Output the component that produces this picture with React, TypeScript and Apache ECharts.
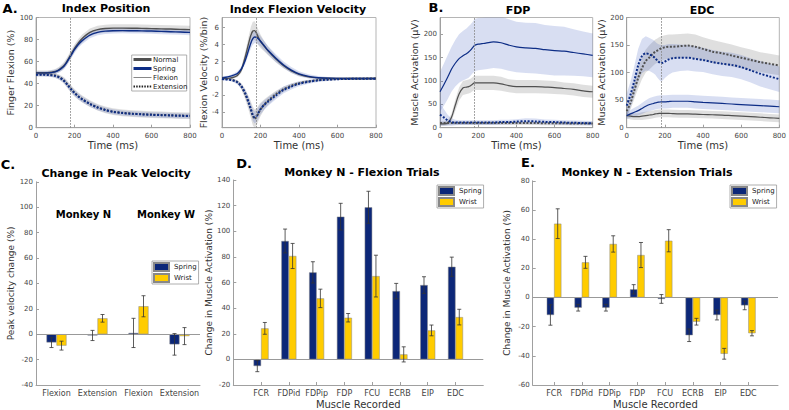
import React, { useEffect, useRef } from "react";
import * as echarts from "echarts";

const FONT = "DejaVu Sans";

// ---------- time-series data (ms) ----------
const timeMs = [0, 20, 40, 60, 80, 100, 120, 140, 150, 160, 170, 180, 190, 200, 220, 240, 280, 320, 360, 400, 450, 500, 550, 600, 650, 700, 750, 800];
const moveOnset = 180;

// Index position (%)
const posFlexNormal = [50, 50, 50, 50, 50.3, 51, 52.8, 55.5, 57.5, 60, 63, 66, 69, 72, 77, 81, 86.5, 89, 90, 90.4, 90.4, 90.3, 90.1, 89.9, 89.7, 89.5, 89.2, 89];
const posFlexSpring = [49.5, 49.5, 49.5, 49.6, 50, 50.7, 52.2, 54.8, 56.8, 59.3, 62.2, 65, 68, 70.8, 75.5, 79, 84, 86.5, 87.6, 88, 88.1, 88, 87.9, 87.7, 87.4, 87.1, 86.8, 86.5];
const posExtNormal = [48.5, 48.5, 48.5, 48.3, 48, 47.4, 46, 43.8, 42, 40, 37.8, 35.6, 33.6, 31.8, 28.6, 26, 21.8, 18.6, 16.2, 14.6, 13.5, 12.8, 12.3, 11.9, 11.6, 11.3, 11, 10.8];
const posExtSpring = [48, 48, 48, 47.8, 47.5, 47, 45.6, 43.4, 41.6, 39.6, 37.4, 35.3, 33.3, 31.5, 28.3, 25.7, 21.5, 18.3, 16, 14.4, 13.3, 12.6, 12.1, 11.7, 11.4, 11.1, 10.8, 10.6];
const posSdFlexNormal = [2, 2, 2, 2, 2, 2.2, 2.5, 3, 3.2, 3.4, 3.5, 3.6, 3.6, 3.6, 3.6, 3.6, 3.5, 3.5, 3.5, 3.5, 3.5, 3.5, 3.5, 3.5, 3.5, 3.5, 3.5, 3.5];
const posSdFlexSpring = [1.8, 1.8, 1.8, 1.8, 1.8, 2, 2.2, 2.5, 2.6, 2.8, 2.9, 3, 3, 3, 3, 3, 2.8, 2.6, 2.5, 2.5, 2.5, 2.5, 2.5, 2.5, 2.5, 2.5, 2.5, 2.5];
const posSdExtNormal = [1.8, 1.8, 1.8, 1.8, 1.8, 2, 2.3, 2.7, 3, 3.2, 3.3, 3.4, 3.4, 3.4, 3.3, 3.2, 3, 3, 3, 3, 3, 3, 3, 3, 3, 3, 3, 3];
const posSdExtSpring = [1.6, 1.6, 1.6, 1.6, 1.6, 1.8, 2, 2.3, 2.5, 2.6, 2.7, 2.8, 2.8, 2.8, 2.7, 2.6, 2.5, 2.4, 2.3, 2.3, 2.3, 2.3, 2.3, 2.3, 2.3, 2.3, 2.3, 2.3];

// Index flexion velocity (%/bin)
const velFlexNormal = [0, 0, 0.05, 0.15, 0.35, 1.0, 2.5, 4.3, 5.1, 5.6, 5.65, 5.3, 4.8, 4.4, 3.8, 3.25, 2.3, 1.5, 0.9, 0.5, 0.2, 0.08, 0.03, 0.01, 0, 0, 0, 0];
const velFlexSpring = [0.1, 0.15, 0.25, 0.4, 0.6, 1.1, 2.1, 3.5, 4.2, 4.7, 4.9, 4.85, 4.65, 4.4, 3.85, 3.3, 2.4, 1.6, 1.0, 0.55, 0.25, 0.1, 0.04, 0.02, 0.01, 0, 0, 0];
const velExtNormal = [0, -0.05, -0.1, -0.2, -0.4, -0.9, -1.8, -3.0, -3.7, -4.4, -4.75, -4.5, -4.05, -3.65, -3.05, -2.6, -1.85, -1.25, -0.85, -0.55, -0.32, -0.18, -0.1, -0.06, -0.04, -0.02, -0.01, 0];
const velExtSpring = [-0.05, -0.1, -0.15, -0.25, -0.45, -0.9, -1.7, -2.9, -3.6, -4.3, -4.6, -4.4, -4.0, -3.6, -3.1, -2.7, -2.0, -1.35, -0.95, -0.62, -0.38, -0.22, -0.13, -0.08, -0.05, -0.03, -0.02, -0.02];
const velSdNormal = [0.1, 0.1, 0.1, 0.15, 0.2, 0.35, 0.6, 0.85, 1.0, 1.1, 1.1, 1.0, 0.9, 0.8, 0.6, 0.5, 0.4, 0.3, 0.25, 0.2, 0.15, 0.1, 0.1, 0.1, 0.1, 0.1, 0.1, 0.1];
const velSdSpring = [0.15, 0.15, 0.15, 0.2, 0.25, 0.3, 0.45, 0.6, 0.65, 0.7, 0.7, 0.7, 0.65, 0.6, 0.55, 0.5, 0.45, 0.4, 0.35, 0.3, 0.25, 0.2, 0.15, 0.12, 0.1, 0.1, 0.1, 0.1];

// FDP activation (µV)
const fdpFlexSpring = [77, 92, 108, 125, 138, 148, 154, 159, 162, 166, 171, 176, 178, 179, 180, 181, 184, 182, 177, 173, 171, 170, 167, 165, 164, 161, 158, 155];
const fdpSdFlexSpring = [43, 45, 47, 48, 50, 52, 53, 54, 55, 55, 55, 56, 56, 56, 56, 56, 56, 56, 55, 54, 54, 54, 53, 53, 52, 50, 48, 47];
const fdpFlexNormal = [8, 8, 10, 22, 48, 72, 85, 87, 88, 90, 93, 96, 96, 96, 96, 96, 96, 94, 90, 88, 88, 88, 87, 86, 84, 82, 79, 77];
const fdpSdFlexNormal = [4, 4, 5, 8, 12, 14, 15, 15, 15, 15, 15, 15, 15, 15, 15, 15, 15, 15, 14, 14, 14, 14, 14, 14, 13, 13, 13, 13];
const fdpExtSpring = [28, 22, 16, 12, 11, 11, 11, 11, 11, 11, 11, 11, 11, 11, 11, 11, 11, 12, 12, 13, 14, 13.5, 12.5, 12, 11, 10.5, 10, 9.5];
const fdpSdExtSpring = [24, 18, 12, 8, 6, 5, 5, 5, 5, 5, 5, 5, 5, 5, 5, 5, 5, 5, 5, 5, 6, 6, 5, 5, 5, 5, 5, 5];
const fdpExtNormal = [10, 10, 10, 10, 10, 10, 10, 10, 10, 10, 10, 10, 10, 10, 10, 10, 10, 10, 10, 10, 10, 10, 9.5, 9.5, 9.5, 9, 9, 9];
const fdpSdExtNormal = [4, 4, 4, 4, 4, 4, 4, 4, 4, 4, 4, 4, 4, 4, 4, 4, 4, 4, 4, 4, 4, 4, 4, 4, 4, 4, 4, 4];

// EDC activation (µV)
const edcExtSpring = [40, 60, 85, 113, 130, 135, 133, 129, 126, 122, 119, 117, 118, 120, 124, 126, 127, 127, 125, 123, 119, 116, 114, 110, 104, 98, 93, 88];
const edcSdExtSpring = [22, 24, 27, 30, 31, 31, 30, 30, 30, 31, 32, 33, 32, 30, 28, 26, 24, 23, 23, 22, 22, 22, 22, 22, 22, 23, 23, 23];
const edcExtNormal = [30, 45, 68, 90, 108, 121, 128, 135, 138, 140, 142, 144, 145, 146, 147, 147, 148, 149, 147, 143, 138, 135, 131, 127, 123, 119, 116, 113];
const edcSdExtNormal = [8, 12, 16, 19, 20, 21, 22, 22, 22, 22, 22, 22, 22, 22, 22, 22, 22, 22, 22, 21, 21, 20, 20, 19, 19, 18, 18, 18];
const edcFlexSpring = [22, 25, 28, 31, 35, 39, 42, 44, 45, 46, 46.5, 47, 47, 47, 47.5, 48, 48, 48, 47, 46, 45, 44, 43, 42, 41, 40, 39, 38];
const edcSdFlexSpring = [6, 7, 8, 9, 10, 11, 12, 12, 12, 12, 12, 12, 12, 12, 12, 12, 12, 12, 12, 12, 12, 12, 12, 12, 12, 12, 12, 12];
const edcFlexNormal = [22, 21, 20, 20, 21, 22, 23, 24, 25, 25.5, 26, 26, 26, 26, 26, 25.5, 25, 25, 24.5, 24, 23.5, 23, 22, 21, 20, 19, 18, 17];
const edcSdFlexNormal = [5, 6, 6, 6, 7, 7, 7, 7, 7, 7, 7, 7, 7, 7, 7, 7, 7, 7, 7, 7, 7, 7, 7, 7, 7, 7, 7, 7];

// ---------- bar data ----------
const pvCats = ["Flexion", "Extension", "Flexion", "Extension"];
const pvSpring = [-6.5, -1, 1, -8];
const pvSpringErr = [4, 4, 11.5, 8.5];
const pvWrist = [-9, 12.5, 22, -1.5];
const pvWristErr = [3.5, 3, 8.3, 6.7];

const muscles = ["FCR", "FDPid", "FDPip", "FDP", "FCU", "ECRB", "EIP", "EDC"];
const flexSpring = [-5.2, 92.4, 67.9, 111.4, 118.7, 53.3, 58, 72.3];
const flexSpringErr = [4.4, 9.3, 8.3, 10.4, 12.5, 6, 6.5, 7.5];
const flexWrist = [24.2, 80.7, 47.6, 32.5, 65, 3.9, 22.6, 33];
const flexWristErr = [4.6, 9.8, 7.2, 3.3, 16.3, 5.9, 4.2, 6.1];
const extSpring = [-12, -7, -7, 5.6, -1, -25.9, -12, -5.4];
const extSpringErr = [7, 2.3, 2.3, 3.2, 3, 4.3, 3.4, 3];
const extWrist = [50.6, 24.1, 36.7, 29.1, 38.9, -16.6, -38.6, -24.5];
const extWristErr = [10.2, 4.1, 5.6, 8.6, 7.6, 2.3, 3.7, 1.8];

// ---------- styles ----------
const NAVY = "#0d2d86";
const GREYLINE = "#505050";
const BAND_BLUE = "rgba(60,90,190,0.20)";
const BAND_GREY = "rgba(110,110,110,0.22)";
const BAR_NAVY = "#0c2778";
const BAR_GOLD = "#ffcc00";
const AXIS = "#a0a0a0";
const TICKTXT = "#444";

function band(g: number, mean: number[], sd: number[], color: string) {
  const pts = timeMs.map((t, i) => [t, mean[i] - sd[i], mean[i] + sd[i]]);
  return {
    type: "custom",
    xAxisIndex: g,
    yAxisIndex: g,
    clip: true,
    silent: true,
    z: 1,
    data: pts,
    encode: { x: 0, y: [1, 2] },
    renderItem: (params: any, api: any) => {
      if (params.dataIndex !== 0) return null;
      const upper = pts.map((p) => api.coord([p[0], p[2]]));
      const lower = pts.map((p) => api.coord([p[0], p[1]])).reverse();
      return {
        type: "polygon",
        shape: { points: upper.concat(lower) },
        style: { fill: color },
        silent: true,
      };
    },
  };
}

function line(g: number, vals: number[], color: string, dotted: boolean, width: number, withOnset = false) {
  const s: any = {
    type: "line",
    xAxisIndex: g,
    yAxisIndex: g,
    data: timeMs.map((t, i) => [t, vals[i]]),
    showSymbol: false,
    symbol: "none",
    smooth: 0.3,
    silent: true,
    z: 3,
    lineStyle: { color, width, type: dotted ? [2, 1.6] : "solid" },
  };
  if (withOnset) {
    s.markLine = {
      silent: true,
      symbol: ["none", "none"],
      label: { show: false },
      lineStyle: { color: "#888", type: [1.5, 1.5], width: 1 },
      data: [{ xAxis: moveOnset }],
    };
  }
  return s;
}

function errBars(g: number, xs: number[], vals: number[], errs: number[], offset: number) {
  const CAP = 2;
  return {
    type: "custom",
    xAxisIndex: g,
    yAxisIndex: g,
    silent: true,
    z: 6,
    data: xs.map((x, i) => [x, vals[i], errs[i]]),
    encode: { x: 0, y: 1 },
    renderItem: (params: any, api: any) => {
      const x = api.value(0);
      const v = api.value(1);
      const e = api.value(2);
      const top = api.coord([x, v + e]);
      const bot = api.coord([x, v - e]);
      const cx = top[0] + offset;
      const st = { stroke: "#333", lineWidth: 0.8 };
      return {
        type: "group",
        children: [
          { type: "line", shape: { x1: cx, y1: top[1], x2: cx, y2: bot[1] }, style: st },
          { type: "line", shape: { x1: cx - CAP, y1: top[1], x2: cx + CAP, y2: top[1] }, style: st },
          { type: "line", shape: { x1: cx - CAP, y1: bot[1], x2: cx + CAP, y2: bot[1] }, style: st },
        ],
      };
    },
  };
}

const zeroLine = {
  silent: true,
  symbol: ["none", "none"],
  label: { show: false },
  lineStyle: { color: "#999", type: "solid", width: 1 },
  data: [{ yAxis: 0 }],
};

function topX(g: number) {
  return {
    type: "value",
    gridIndex: g,
    min: 0,
    max: 800,
    interval: 200,
    axisLine: { show: true, onZero: false, lineStyle: { color: AXIS } },
    axisTick: { show: true, inside: true, length: 3, lineStyle: { color: AXIS } },
    axisLabel: { fontSize: 7, color: TICKTXT, margin: 5, fontFamily: FONT },
    splitLine: { show: false },
    name: "Time (ms)",
    nameLocation: "middle",
    nameGap: 11.5,
    nameTextStyle: { fontSize: 10, color: "#333", fontFamily: FONT },
  };
}

function yAx(g: number, min: number, max: number, ticks: number[], name: string, gap: number, nameSize: number) {
  return {
    type: "value",
    gridIndex: g,
    min,
    max,
    axisLine: { show: true, onZero: false, lineStyle: { color: AXIS } },
    axisTick: { show: true, inside: true, length: 3, customValues: ticks, lineStyle: { color: AXIS } },
    axisLabel: { customValues: ticks, fontSize: 7, color: TICKTXT, margin: 3, fontFamily: FONT },
    splitLine: { show: false },
    name,
    nameLocation: "middle",
    nameGap: gap,
    nameTextStyle: { fontSize: nameSize, color: "#333", fontFamily: FONT },
  };
}

function range(a: number, b: number, step: number) {
  const out: number[] = [];
  for (let v = a; v <= b + 1e-9; v += step) out.push(v);
  return out;
}

const muscleIdx = muscles.map((_, i) => i + 1);

function muscleX(g: number, min: number, max: number) {
  return {
    type: "value",
    gridIndex: g,
    min,
    max,
    axisLine: { show: true, onZero: false, lineStyle: { color: AXIS } },
    axisTick: { show: true, inside: true, length: 3, customValues: muscleIdx, lineStyle: { color: AXIS } },
    axisLabel: {
      customValues: muscleIdx,
      formatter: (v: number) => muscles[Math.round(v) - 1] ?? "",
      fontSize: 8,
      color: TICKTXT,
      margin: 4,
      fontFamily: FONT,
    },
    splitLine: { show: false },
    name: "Muscle Recorded",
    nameLocation: "middle",
    nameGap: 14,
    nameTextStyle: { fontSize: 10, color: "#333", fontFamily: FONT },
  };
}

function txt(text: string, x: number, y: number, size: number, bold = true, color = "#000") {
  return {
    type: "text",
    x,
    y,
    z: 100,
    silent: true,
    style: {
      text,
      fill: color,
      font: `${bold ? "bold " : ""}${size}px "${FONT}"`,
      align: "center",
      verticalAlign: "middle",
      textAlign: "center",
      textVerticalAlign: "middle",
    },
  };
}

function legText(text: string, x: number, y: number) {
  return {
    type: "text",
    x,
    y,
    z: 101,
    silent: true,
    style: {
      text,
      fill: "#222",
      font: `7px "${FONT}"`,
      align: "left",
      verticalAlign: "middle",
      textAlign: "left",
      textVerticalAlign: "middle",
    },
  };
}

function legLine(y: number, color: string, width: number, dash?: number[]) {
  return {
    type: "line",
    z: 101,
    silent: true,
    shape: { x1: 133.5, y1: y, x2: 151.5, y2: y },
    style: { stroke: color, lineWidth: width, lineDash: dash },
  };
}

function barLegend(left: number, top: number) {
  return {
    data: ["Spring", "Wrist"],
    left,
    top,
    orient: "vertical",
    icon: "rect",
    itemWidth: 15,
    itemHeight: 8,
    itemGap: 1,
    padding: [1, 2, 1, 1],
    borderColor: "#999",
    borderWidth: 0.8,
    backgroundColor: "#fff",
    textStyle: { fontSize: 7, color: "#222", fontFamily: FONT },
    selectedMode: false,
  };
}

function buildOption() {
  const grids = [
    { left: 36, top: 17.5, width: 154, height: 110.2 },
    { left: 222, top: 17.5, width: 154, height: 110.2 },
    { left: 440, top: 17.5, width: 152.7, height: 110.2 },
    { left: 626.7, top: 17.5, width: 154, height: 110.2 },
    { left: 36, top: 181.8, width: 164, height: 203.2 },
    { left: 233.3, top: 180, width: 250, height: 205 },
    { left: 532.7, top: 180.8, width: 245.3, height: 204.2 },
  ].map((g, i) => ({ ...g, show: i < 4, borderColor: "#b5b5b5", borderWidth: 1, backgroundColor: "transparent" }));

  const xAxis: any[] = [
    topX(0),
    topX(1),
    topX(2),
    topX(3),
    {
      type: "category",
      gridIndex: 4,
      data: pvCats,
      axisLine: { show: true, onZero: false, lineStyle: { color: AXIS } },
      axisTick: { show: false },
      axisLabel: { interval: 0, fontSize: 8, color: TICKTXT, margin: 4, fontFamily: FONT },
    },
    muscleX(5, 0, 9),
    muscleX(6, 0.23, 9.07),
  ];

  const yAxis: any[] = [
    yAx(0, 0, 100, range(0, 100, 20), "Finger Flexion (%)", 18, 9.5),
    yAx(1, -5.8, 7.2, range(-4, 6, 2), "Flexion Velocity (%/bin)", 13, 9.5),
    yAx(2, 0, 236, range(0, 200, 50), "Muscle Activation (µV)", 19, 9.5),
    yAx(3, 0, 200, range(0, 200, 50), "Muscle Activation (µV)", 15, 9.5),
    yAx(4, -40, 120, range(-40, 120, 20), "Peak velocity change (%)", 19.5, 9),
    yAx(5, -20, 140, range(-20, 140, 20), "Change in Muscle Activation (%)", 18.5, 9),
    yAx(6, -60, 80, range(-60, 80, 20), "Change in Muscle Activation (%)", 21.5, 9),
  ];

  const series: any[] = [
    // A: position
    band(0, posFlexNormal, posSdFlexNormal, BAND_GREY),
    band(0, posFlexSpring, posSdFlexSpring, BAND_BLUE),
    band(0, posExtNormal, posSdExtNormal, BAND_GREY),
    band(0, posExtSpring, posSdExtSpring, BAND_BLUE),
    line(0, posFlexNormal, GREYLINE, false, 1.4, true),
    line(0, posFlexSpring, NAVY, false, 1.4),
    line(0, posExtNormal, GREYLINE, true, 2),
    line(0, posExtSpring, NAVY, true, 2),
    // A: velocity
    band(1, velFlexNormal, velSdNormal, BAND_GREY),
    band(1, velFlexSpring, velSdSpring, BAND_BLUE),
    band(1, velExtNormal, velSdNormal, BAND_GREY),
    band(1, velExtSpring, velSdSpring, BAND_BLUE),
    line(1, velFlexNormal, GREYLINE, false, 1.4, true),
    line(1, velFlexSpring, NAVY, false, 1.4),
    line(1, velExtNormal, GREYLINE, true, 2),
    line(1, velExtSpring, NAVY, true, 2),
    // B: FDP
    band(2, fdpFlexNormal, fdpSdFlexNormal, BAND_GREY),
    band(2, fdpFlexSpring, fdpSdFlexSpring, BAND_BLUE),
    band(2, fdpExtNormal, fdpSdExtNormal, BAND_GREY),
    band(2, fdpExtSpring, fdpSdExtSpring, BAND_BLUE),
    line(2, fdpFlexNormal, GREYLINE, false, 1.2, true),
    line(2, fdpFlexSpring, NAVY, false, 1.2),
    line(2, fdpExtNormal, GREYLINE, true, 2),
    line(2, fdpExtSpring, NAVY, true, 2),
    // B: EDC
    band(3, edcFlexNormal, edcSdFlexNormal, BAND_GREY),
    band(3, edcFlexSpring, edcSdFlexSpring, BAND_BLUE),
    band(3, edcExtNormal, edcSdExtNormal, BAND_GREY),
    band(3, edcExtSpring, edcSdExtSpring, BAND_BLUE),
    line(3, edcFlexNormal, GREYLINE, false, 1.2, true),
    line(3, edcFlexSpring, NAVY, false, 1.2),
    line(3, edcExtNormal, GREYLINE, true, 2),
    line(3, edcExtSpring, NAVY, true, 2),
    // C: peak velocity change
    {
      type: "bar",
      name: "Spring",
      xAxisIndex: 4,
      yAxisIndex: 4,
      data: pvSpring,
      barWidth: 10,
      barGap: "0%",
      itemStyle: { color: BAR_NAVY, borderColor: "#888", borderWidth: 0.5 },
      markLine: zeroLine,
      silent: true,
    },
    {
      type: "bar",
      name: "Wrist",
      xAxisIndex: 4,
      yAxisIndex: 4,
      data: pvWrist,
      barWidth: 10,
      barGap: "0%",
      itemStyle: { color: BAR_GOLD, borderColor: "#888", borderWidth: 0.5 },
      silent: true,
    },
    errBars(4, pvCats.map((_, i) => i), pvSpring, pvSpringErr, -5),
    errBars(4, pvCats.map((_, i) => i), pvWrist, pvWristErr, 5),
    // D: flexion trials
    {
      type: "bar",
      name: "Spring",
      xAxisIndex: 5,
      yAxisIndex: 5,
      data: muscleIdx.map((x, i) => [x, flexSpring[i]]),
      barWidth: 7.5,
      barGap: "0%",
      itemStyle: { color: BAR_NAVY, borderColor: "#888", borderWidth: 0.5 },
      markLine: zeroLine,
      silent: true,
    },
    {
      type: "bar",
      name: "Wrist",
      xAxisIndex: 5,
      yAxisIndex: 5,
      data: muscleIdx.map((x, i) => [x, flexWrist[i]]),
      barWidth: 7.5,
      barGap: "0%",
      itemStyle: { color: BAR_GOLD, borderColor: "#888", borderWidth: 0.5 },
      silent: true,
    },
    errBars(5, muscleIdx, flexSpring, flexSpringErr, -3.75),
    errBars(5, muscleIdx, flexWrist, flexWristErr, 3.75),
    // E: extension trials
    {
      type: "bar",
      name: "Spring",
      xAxisIndex: 6,
      yAxisIndex: 6,
      data: muscleIdx.map((x, i) => [x, extSpring[i]]),
      barWidth: 7.3,
      barGap: "0%",
      itemStyle: { color: BAR_NAVY, borderColor: "#888", borderWidth: 0.5 },
      markLine: zeroLine,
      silent: true,
    },
    {
      type: "bar",
      name: "Wrist",
      xAxisIndex: 6,
      yAxisIndex: 6,
      data: muscleIdx.map((x, i) => [x, extWrist[i]]),
      barWidth: 7.3,
      barGap: "0%",
      itemStyle: { color: BAR_GOLD, borderColor: "#888", borderWidth: 0.5 },
      silent: true,
    },
    errBars(6, muscleIdx, extSpring, extSpringErr, -3.65),
    errBars(6, muscleIdx, extWrist, extWristErr, 3.65),
  ];

  const graphic: any[] = [
    txt("A.", 10, 8, 13),
    txt("Index Position", 106, 8.5, 11),
    txt("Index Flexion Velocity", 298, 9, 11),
    txt("B.", 436, 7, 13),
    txt("FDP", 518, 10, 11),
    txt("EDC", 702, 10, 11),
    txt("C.", 8, 164, 13),
    txt("Change in Peak Velocity", 116, 173, 11),
    txt("D.", 244, 163, 13),
    txt("Monkey N - Flexion Trials", 362, 172, 11),
    txt("E.", 528, 162, 13),
    txt("Monkey N - Extension Trials", 647, 172, 11),
    txt("Monkey N", 83.5, 214, 10),
    txt("Monkey W", 166, 214, 10),
    // legend of panel A
    {
      type: "rect",
      z: 100,
      silent: true,
      shape: { x: 131.7, y: 55, width: 55, height: 36 },
      style: { fill: "#fff", stroke: "#999", lineWidth: 0.8 },
    },
    legLine(59.5, GREYLINE, 3),
    legLine(68.5, NAVY, 3),
    legLine(77.5, "#888", 1),
    legLine(86.5, "#222", 1.8, [1.5, 1.2]),
    legText("Normal", 153, 59.5),
    legText("Spring", 153, 68.5),
    legText("Flexion", 153, 77.5),
    legText("Extension", 153, 86.5),
  ];

  return {
    animation: false,
    backgroundColor: "#fff",
    textStyle: { fontFamily: FONT },
    grid: grids,
    xAxis,
    yAxis,
    series,
    legend: [barLegend(152, 261), barLegend(437, 185), barLegend(730, 185)],
    graphic,
  };
}

export default function App() {
  const ref = useRef<HTMLDivElement>(null);
  useEffect(() => {
    if (!ref.current) return;
    const chart = echarts.init(ref.current, undefined, { renderer: "svg" });
    chart.setOption(buildOption() as any);
    return () => chart.dispose();
  }, []);
  return <div ref={ref} style={{ position: "fixed", left: 0, top: 0, width: 789, height: 410 }} />;
}
